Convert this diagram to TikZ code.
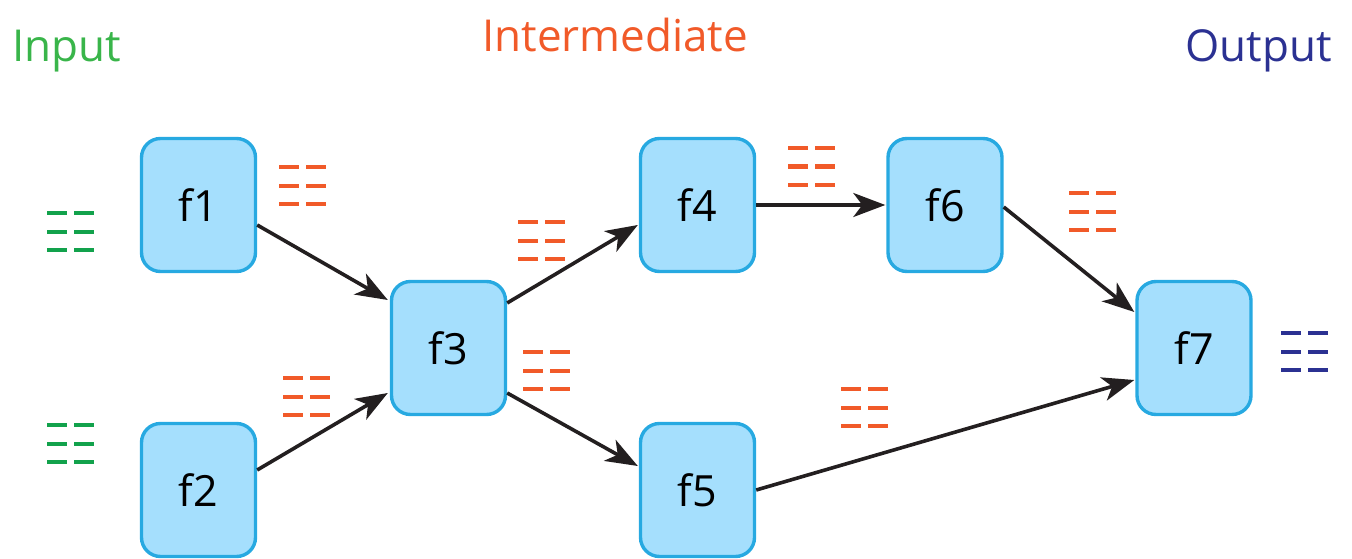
\documentclass[tikz,border=0pt]{standalone}
\usepackage{fontspec}
\setmainfont{Open Sans}
\usetikzlibrary{arrows.meta,calc}
\definecolor{ingreen}{HTML}{39B54A}
\definecolor{dgreen}{HTML}{12A24C}
\definecolor{midorange}{HTML}{F15A29}
\definecolor{outblue}{HTML}{2B3192}
\definecolor{boxfill}{HTML}{A5DFFD}
\definecolor{boxline}{HTML}{27A9E1}
\definecolor{arrowcol}{HTML}{231F20}
\tikzset{
  fbox/.style={draw=boxline, fill=boxfill, line width=3.4pt, rounded corners=19pt,
    minimum width=114pt, minimum height=133pt, inner sep=0pt,
    font=\fontsize{43}{48}\selectfont, text=black},
  flow/.style={draw=arrowcol, line width=3.6pt, -{Stealth[length=32pt,width=24pt,inset=9pt]}},
  header/.style={anchor=base west, inner sep=0pt, font=\fontsize{44}{50}\selectfont},
  dashgrp/.pic={
    \draw[line width=4pt] (0,0)--(20,0) (27,0)--(47,0)
      (0,18.5)--(20,18.5) (27,18.5)--(47,18.5)
      (0,37)--(20,37) (27,37)--(47,37);
  }
}
\begin{document}
\begin{tikzpicture}[x=1pt,y=-1pt]
\useasboundingbox (0,0) rectangle (1352,559);
\node[header, text=ingreen] (lin) at (12,62) {Input};
\node[header, text=midorange] (lmid) at (482,52) {Intermediate};
\node[header, text=outblue] (lout) at (1185,62) {Output};

\node[fbox] (f1) at (198.5,205) {f1};
\node[fbox] (f2) at (198.5,490) {f2};
\node[fbox] (f3) at (448.5,348) {f3};
\node[fbox] (f4) at (697.5,205) {f4};
\node[fbox] (f5) at (697.5,490) {f5};
\node[fbox] (f6) at (945,205) {f6};
\node[fbox] (f7) at (1194,348) {f7};

\draw[flow] ($(f1.east)+(0,20)$) -- ($(f3.west)+(-2,-48)$);
\draw[flow] ($(f2.east)+(0,-20)$) -- ($(f3.west)+(-2,45)$);
\draw[flow] ($(f3.east)+(0,-45)$) -- ($(f4.west)+(-1,20)$);
\draw[flow] ($(f3.east)+(0,45)$) -- ($(f5.west)+(-1,-24)$);
\draw[flow] (f4.east) -- ($(f6.west)+(-1,0)$);
\draw[flow] ($(f6.east)+(0,2)$) -- ($(f7.west)+(-1,-36)$);
\draw[flow] (f5.east) -- ($(f7.west)+(-1,32)$);

\pic[draw=dgreen] at (47,213) {dashgrp};
\pic[draw=dgreen] at (47,425) {dashgrp};
\pic[draw=midorange] at (279,167) {dashgrp};
\pic[draw=midorange] at (283,378) {dashgrp};
\pic[draw=midorange] at (518,222) {dashgrp};
\pic[draw=midorange] at (523,352) {dashgrp};
\pic[draw=midorange] at (788,148) {dashgrp};
\pic[draw=midorange] at (1069,193) {dashgrp};
\pic[draw=midorange] at (841,389) {dashgrp};
\pic[draw=outblue] at (1281,333) {dashgrp};
\end{tikzpicture}
\end{document}
